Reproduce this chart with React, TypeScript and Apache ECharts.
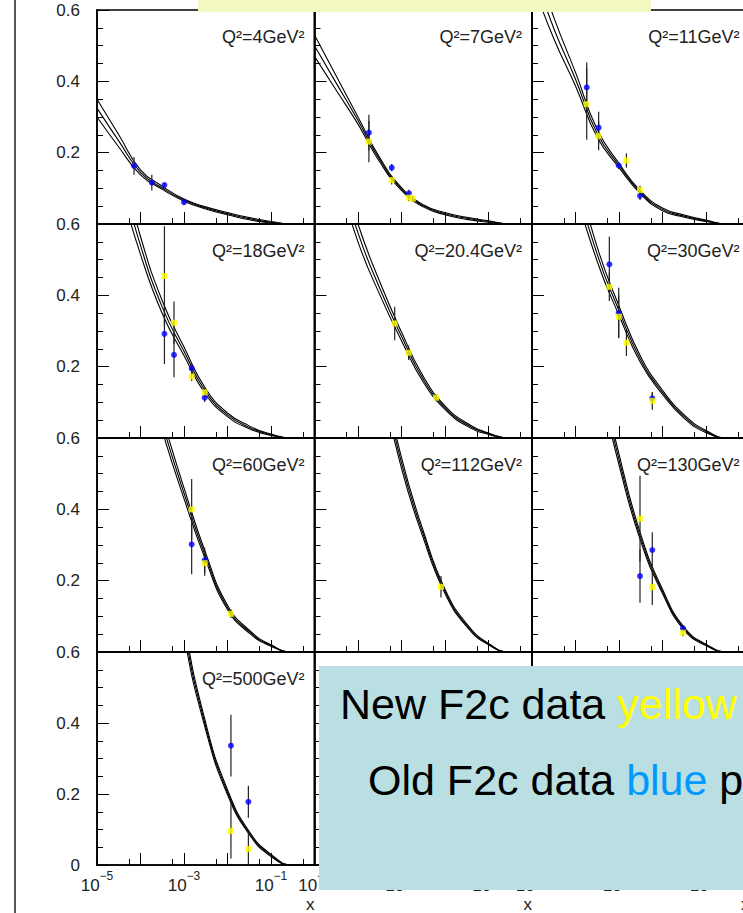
import React, { useEffect, useRef } from 'react';
import * as echarts from 'echarts';

const FONT = '"Liberation Sans", Arial, Helvetica, sans-serif';

// sampling of the theory curves in x (log10 x = -5 ... 0, step 0.5)
const X_GRID = [1e-5, 3.16e-5, 1e-4, 3.16e-4, 1e-3, 3.16e-3, 1e-2, 3.16e-2, 1e-1, 3.16e-1, 1];

const Q2_LABELS = [
  'Q²=4GeV²', 'Q²=7GeV²', 'Q²=11GeV²',
  'Q²=18GeV²', 'Q²=20.4GeV²', 'Q²=30GeV²',
  'Q²=60GeV²', 'Q²=112GeV²', 'Q²=130GeV²',
  'Q²=500GeV²',
];

// three theory curves per panel: [upper, central, lower]
const CURVES_Q4 = [
  [0.350, 0.250, 0.152, 0.106, 0.070, 0.048, 0.032, 0.018, 0.007, 0, 0],
  [0.325, 0.233, 0.145, 0.101, 0.067, 0.045, 0.029, 0.015, 0.005, 0, 0],
  [0.300, 0.216, 0.138, 0.097, 0.064, 0.042, 0.026, 0.012, 0.003, 0, 0],
];
const CURVES_Q7 = [
  [0.53, 0.415, 0.30, 0.186, 0.102, 0.054, 0.032, 0.019, 0.009, 0, 0],
  [0.50, 0.395, 0.29, 0.180, 0.098, 0.051, 0.029, 0.016, 0.007, 0, 0],
  [0.47, 0.375, 0.28, 0.174, 0.094, 0.048, 0.026, 0.013, 0.005, 0, 0],
];
const CURVES_Q11 = [
  [0.76, 0.58, 0.425, 0.265, 0.170, 0.092, 0.045, 0.025, 0.011, 0, 0],
  [0.72, 0.549, 0.406, 0.254, 0.164, 0.088, 0.041, 0.022, 0.009, 0, 0],
  [0.68, 0.52, 0.387, 0.243, 0.158, 0.084, 0.037, 0.019, 0.007, 0, 0],
];
const CURVES_Q18 = [
  [1.05, 0.80, 0.565, 0.385, 0.255, 0.138, 0.070, 0.034, 0.011, 0, 0],
  [1.00, 0.76, 0.540, 0.367, 0.243, 0.130, 0.065, 0.030, 0.009, 0, 0],
  [0.95, 0.72, 0.515, 0.349, 0.231, 0.122, 0.060, 0.026, 0.007, 0, 0],
];
const CURVES_Q20 = [
  [1.05, 0.81, 0.60, 0.438, 0.297, 0.173, 0.090, 0.042, 0.014, 0, 0],
  [1.00, 0.78, 0.575, 0.420, 0.285, 0.165, 0.085, 0.038, 0.012, 0, 0],
  [0.95, 0.75, 0.55, 0.402, 0.273, 0.157, 0.080, 0.034, 0.010, 0, 0],
];
const CURVES_Q30 = [
  [1.40, 1.04, 0.76, 0.535, 0.370, 0.228, 0.134, 0.065, 0.021, 0, 0],
  [1.35, 1.00, 0.73, 0.515, 0.357, 0.219, 0.128, 0.060, 0.018, 0, 0],
  [1.30, 0.96, 0.70, 0.495, 0.344, 0.210, 0.122, 0.055, 0.015, 0, 0],
];
const CURVES_Q60 = [
  [1.40, 1.13, 0.88, 0.66, 0.460, 0.277, 0.131, 0.061, 0.020, 0, 0],
  [1.35, 1.10, 0.86, 0.64, 0.445, 0.267, 0.125, 0.057, 0.018, 0, 0],
  [1.30, 1.07, 0.84, 0.62, 0.430, 0.257, 0.119, 0.053, 0.016, 0, 0],
];
const CURVES_Q112 = [
  [1.95, 1.54, 1.13, 0.82, 0.545, 0.340, 0.176, 0.079, 0.024, 0, 0],
  [1.90, 1.50, 1.10, 0.80, 0.530, 0.330, 0.170, 0.075, 0.022, 0, 0],
  [1.85, 1.46, 1.07, 0.78, 0.515, 0.320, 0.164, 0.071, 0.020, 0, 0],
];
const CURVES_Q130 = [
  [1.95, 1.54, 1.13, 0.82, 0.555, 0.330, 0.176, 0.069, 0.022, 0, 0],
  [1.90, 1.50, 1.10, 0.80, 0.540, 0.320, 0.170, 0.065, 0.020, 0, 0],
  [1.85, 1.46, 1.07, 0.78, 0.525, 0.310, 0.164, 0.061, 0.018, 0, 0],
];
const CURVES_Q500 = [
  [3.05, 2.35, 1.74, 1.13, 0.69, 0.40, 0.212, 0.094, 0.030, 0, 0],
  [3.00, 2.30, 1.70, 1.10, 0.67, 0.39, 0.205, 0.090, 0.027, 0, 0],
  [2.95, 2.25, 1.66, 1.07, 0.65, 0.38, 0.198, 0.086, 0.024, 0, 0],
];

// data points: [x, F2c, error]
const YELLOW_Q4: number[][] = [];
const BLUE_Q4 = [[7.1e-5, 0.163, 0.025], [1.82e-4, 0.116, 0.022], [3.55e-4, 0.109, 0.006], [1.0e-3, 0.061, 0.008]];
const YELLOW_Q7 = [[1.78e-4, 0.231, 0.058], [5.96e-4, 0.123, 0.012], [1.48e-3, 0.074, 0.01], [1.82e-3, 0.071, 0.008]];
const BLUE_Q7 = [[1.78e-4, 0.256, 0.05], [5.96e-4, 0.158, 0.01], [1.48e-3, 0.086, 0.01]];
const YELLOW_Q11 = [[1.81e-4, 0.336, 0.1], [3.4e-4, 0.247, 0.04], [1.48e-3, 0.178, 0.02], [3.04e-3, 0.095, 0.012]];
const BLUE_Q11 = [[1.81e-4, 0.383, 0.07], [3.4e-4, 0.27, 0.045], [9.84e-4, 0.164, 0.01], [3.04e-3, 0.079, 0.012]];
const YELLOW_Q18 = [[3.55e-4, 0.454, 0.14], [5.89e-4, 0.323, 0.06], [1.5e-3, 0.172, 0.012], [2.99e-3, 0.128, 0.012]];
const BLUE_Q18 = [[3.55e-4, 0.292, 0.085], [5.89e-4, 0.233, 0.063], [1.5e-3, 0.195, 0.012], [2.99e-3, 0.113, 0.012]];
const YELLOW_Q20 = [[6.97e-4, 0.321, 0.047], [1.46e-3, 0.239, 0.02], [6.21e-3, 0.113, 0.01]];
const BLUE_Q20: number[][] = [];
const YELLOW_Q30 = [[6.0e-4, 0.424, 0.04], [9.84e-4, 0.34, 0.06], [1.48e-3, 0.267, 0.037], [5.82e-3, 0.104, 0.025]];
const BLUE_Q30 = [[6.0e-4, 0.487, 0.077], [9.84e-4, 0.351, 0.07], [5.82e-3, 0.111, 0.015]];
const YELLOW_Q60 = [[1.5e-3, 0.40, 0.085], [2.99e-3, 0.249, 0.035], [1.2e-2, 0.107, 0.012]];
const BLUE_Q60 = [[1.5e-3, 0.302, 0.084], [2.99e-3, 0.258, 0.035]];
const YELLOW_Q112 = [[8.09e-3, 0.183, 0.03]];
const BLUE_Q112: number[][] = [];
const YELLOW_Q130 = [[3.04e-3, 0.374, 0.12], [5.82e-3, 0.182, 0.05], [2.95e-2, 0.054, 0.01]];
const BLUE_Q130 = [[3.04e-3, 0.213, 0.075], [5.82e-3, 0.286, 0.05], [2.95e-2, 0.066, 0.01]];
const YELLOW_Q500 = [[1.2e-2, 0.096, 0.078], [3.02e-2, 0.045, 0.045]];
const BLUE_Q500 = [[1.2e-2, 0.336, 0.087], [3.02e-2, 0.178, 0.045]];

const PANEL_CURVES = [CURVES_Q4, CURVES_Q7, CURVES_Q11, CURVES_Q18, CURVES_Q20, CURVES_Q30, CURVES_Q60, CURVES_Q112, CURVES_Q130, CURVES_Q500];
const PANEL_YELLOW = [YELLOW_Q4, YELLOW_Q7, YELLOW_Q11, YELLOW_Q18, YELLOW_Q20, YELLOW_Q30, YELLOW_Q60, YELLOW_Q112, YELLOW_Q130, YELLOW_Q500];
const PANEL_BLUE = [BLUE_Q4, BLUE_Q7, BLUE_Q11, BLUE_Q18, BLUE_Q20, BLUE_Q30, BLUE_Q60, BLUE_Q112, BLUE_Q130, BLUE_Q500];

// layout
const ROWS = 4;
const COLS = 3;
const P_LEFT = 97;
const P_TOP = 10;
const P_W = 217.5;
const P_H = 214;

function buildOption() {
  const grid: any[] = [];
  const xAxis: any[] = [];
  const yAxis: any[] = [];
  const series: any[] = [];
  const graphic: any[] = [];

  for (let r = 0; r < ROWS; r++) {
    for (let c = 0; c < COLS; c++) {
      const i = r * COLS + c;
      const left = P_LEFT + c * P_W;
      const top = P_TOP + r * P_H;
      const bottomRow = r === ROWS - 1;
      grid.push({
        left, top, width: P_W, height: P_H,
        show: true, borderColor: '#000', borderWidth: 1.6, backgroundColor: 'transparent',
      });
      xAxis.push({
        type: 'log', logBase: 10, min: 1e-5, max: 1, splitNumber: 5, gridIndex: i,
        axisLine: { show: true, onZero: false, lineStyle: { color: '#000', width: 1.6 } },
        axisTick: { show: true, inside: true, length: 12, lineStyle: { color: '#000', width: 1 } },
        minorTick: { show: true, splitNumber: 2, length: 6, lineStyle: { color: '#000', width: 1 } },
        splitLine: { show: false },
        minorSplitLine: { show: false },
        name: bottomRow ? 'x' : '',
        nameLocation: 'end',
        nameGap: 0,
        nameTextStyle: { fontSize: 17, fontFamily: FONT, color: '#222', align: 'right', verticalAlign: 'top', padding: [31, 0, 0, 0] },
        axisLabel: bottomRow ? {
          show: true, interval: 0, margin: 5,
          formatter: (v: number) => {
            const e = Math.round(Math.log10(v));
            return e < 0 && e % 2 !== 0 ? `{b|10}{s|−${-e}}` : '';
          },
          rich: {
            b: { fontSize: 17, fontFamily: FONT, color: '#222', lineHeight: 24, verticalAlign: 'bottom' },
            s: { fontSize: 12, fontFamily: FONT, color: '#222', lineHeight: 12, verticalAlign: 'top' },
          },
        } : { show: false },
      });
      yAxis.push({
        type: 'value', min: 0, max: 0.6, interval: 0.2, gridIndex: i,
        axisLine: { show: true, onZero: false, lineStyle: { color: '#000', width: 1.6 } },
        axisTick: { show: true, inside: true, length: 12, lineStyle: { color: '#000', width: 1 } },
        minorTick: { show: true, splitNumber: 4, length: 6, lineStyle: { color: '#000', width: 1 } },
        splitLine: { show: false },
        axisLabel: c === 0 ? {
          show: true, margin: 17, fontSize: 17, fontFamily: FONT, color: '#222',
          formatter: (v: number) => (Math.abs(v) < 1e-9 ? (bottomRow ? '0' : '') : v.toFixed(1)),
        } : { show: false },
      });

      if (i < PANEL_CURVES.length) {
        PANEL_CURVES[i].forEach((curve) => {
          series.push({
            type: 'line', xAxisIndex: i, yAxisIndex: i, silent: true,
            showSymbol: false, smooth: 0.5, clip: true, z: 2,
            lineStyle: { color: '#000', width: 1.1 },
            data: X_GRID.map((x, k) => [x, curve[k]]),
          });
        });
        const errs = [...PANEL_BLUE[i], ...PANEL_YELLOW[i]];
        if (errs.length) {
          series.push({
            type: 'custom', xAxisIndex: i, yAxisIndex: i, silent: true, clip: true, z: 3,
            encode: { x: 0, y: 1 },
            data: errs,
            renderItem: (params: any, api: any) => {
              const x = api.value(0), y = api.value(1), e = api.value(2);
              const p1 = api.coord([x, y - e]);
              const p2 = api.coord([x, y + e]);
              return {
                type: 'line',
                shape: { x1: p1[0], y1: p1[1], x2: p2[0], y2: p2[1] },
                style: { stroke: '#222', lineWidth: 1.2 },
              };
            },
          });
        }
        if (PANEL_BLUE[i].length) {
          series.push({
            type: 'scatter', xAxisIndex: i, yAxisIndex: i, silent: true, z: 4,
            symbol: 'circle', symbolSize: 6,
            itemStyle: { color: '#0000ff' },
            data: PANEL_BLUE[i].map((p) => [p[0], p[1]]),
          });
        }
        if (PANEL_YELLOW[i].length) {
          series.push({
            type: 'scatter', xAxisIndex: i, yAxisIndex: i, silent: true, z: 5,
            symbol: 'rect', symbolSize: 6,
            itemStyle: { color: '#ffff00' },
            data: PANEL_YELLOW[i].map((p) => [p[0], p[1]]),
          });
        }
        graphic.push({
          type: 'text', z: 50,
          x: left + P_W - 10, y: top + 27,
          style: {
            text: Q2_LABELS[i], fill: '#222', font: `18px ${FONT}`,
            align: 'right', verticalAlign: 'middle',
          },
        });
      }
    }
  }

  graphic.push(
    { type: 'line', z: 100, shape: { x1: 15, y1: 0, x2: 15, y2: 913 }, style: { stroke: '#000', lineWidth: 1.3 } },
    { type: 'rect', z: 100, shape: { x: 198, y: 0, width: 453, height: 12 }, style: { fill: '#f4f9c4' } },
    { type: 'rect', z: 100, shape: { x: 319, y: 666, width: 460, height: 224 }, style: { fill: '#b9dfe2' } },
    {
      type: 'text', z: 101, x: 340, y: 704,
      style: {
        text: '{k|New F2c data }{y|yellow}{k| points}',
        font: `43px ${FONT}`, align: 'left', verticalAlign: 'middle',
        rich: {
          k: { fill: '#000', fontSize: 43, fontFamily: FONT },
          y: { fill: '#ffff00', fontSize: 43, fontFamily: FONT },
        },
      },
    },
    {
      type: 'text', z: 101, x: 368, y: 780,
      style: {
        text: '{k|Old F2c data }{b|blue}{k| points}',
        font: `43px ${FONT}`, align: 'left', verticalAlign: 'middle',
        rich: {
          k: { fill: '#000', fontSize: 43, fontFamily: FONT },
          b: { fill: '#0099ff', fontSize: 43, fontFamily: FONT },
        },
      },
    },
  );

  return {
    animation: false,
    backgroundColor: '#ffffff',
    grid, xAxis, yAxis, series, graphic,
  };
}

export default function App() {
  const ref = useRef<HTMLDivElement>(null);
  useEffect(() => {
    if (!ref.current) return;
    const chart = echarts.init(ref.current, undefined, { renderer: 'svg' });
    chart.setOption(buildOption() as any);
    return () => chart.dispose();
  }, []);
  return (
    <div style={{ position: 'absolute', left: 0, top: 0, width: 743, height: 913, overflow: 'hidden', background: '#fff' }}>
      <div ref={ref} style={{ width: 760, height: 913 }} />
    </div>
  );
}
